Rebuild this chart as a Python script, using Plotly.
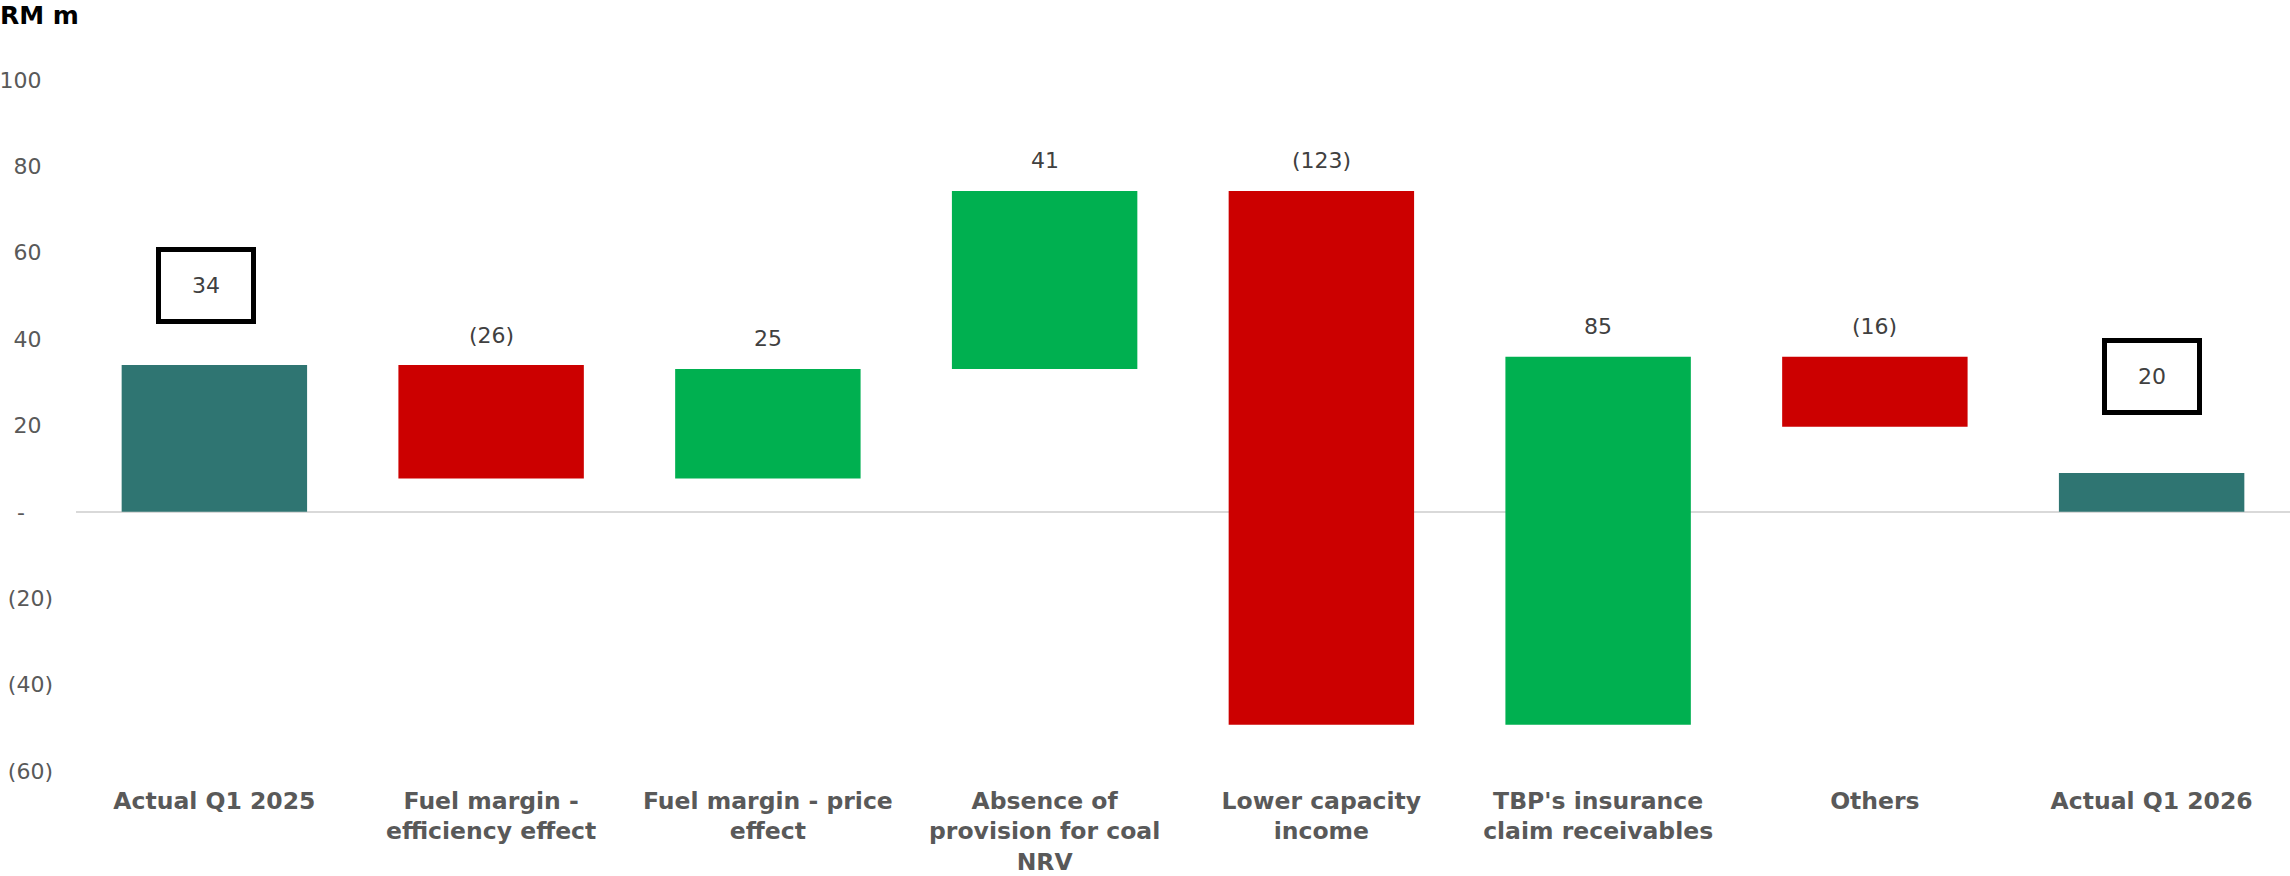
"""Q1 2026 vs Q1 2025 bridge (RM m) drawn as floating bars."""

import plotly.graph_objects as go

# Bridge steps, left to right
categories = [
    "Actual Q1 2025",
    "Fuel margin - efficiency effect",
    "Fuel margin - price effect",
    "Absence of provision for coal NRV",
    "Lower capacity income",
    "TBP's insurance claim receivables",
    "Others",
    "Actual Q1 2026",
]
tick_labels = [
    "Actual Q1 2025",
    "Fuel margin -<br>efficiency effect",
    "Fuel margin - price<br>effect",
    "Absence of<br>provision for coal<br>NRV",
    "Lower capacity<br>income",
    "TBP's insurance<br>claim receivables",
    "Others",
    "Actual Q1 2026",
]

# Floating bar extents as drawn (RM m)
bar_bottom = [0, 7.7, 7.7, 33.1, -49.3, -49.3, 19.7, 0]
bar_top = [34, 34, 33.1, 74.3, 74.3, 35.9, 35.9, 9.0]

# Value labels shown on the chart
value_labels = ["34", "(26)", "25", "41", "(123)", "85", "(16)", "20"]
bar_kind = ["total", "down", "up", "up", "down", "up", "down", "total"]

# Y axis ticks
y_ticks = [-60, -40, -20, 0, 20, 40, 60, 80, 100]
y_tick_labels = ["(60)", "(40)", "(20)", "-", "20", "40", "60", "80", "100"]

KIND_COLORS = {"total": "#2F7572", "down": "#CC0000", "up": "#00B050"}
FONT = "DejaVu Sans, Verdana, sans-serif"
NBSP = "\u00a0"
THIN = "\u2009"


def pad_tick(label: str) -> str:
    """Accounting style: positive numbers leave room for the closing bracket."""
    if label == "-":
        return "-" + NBSP * 4
    if label.startswith("("):
        return label
    return label + NBSP + THIN


fig = go.Figure()

fig.add_trace(go.Bar(
    x=categories,
    base=bar_bottom,
    y=[t - b for t, b in zip(bar_top, bar_bottom)],
    width=0.67,
    marker=dict(color=[KIND_COLORS[k] for k in bar_kind], line=dict(width=0)),
    hoverinfo="skip",
    showlegend=False,
))

annotations = []
for cat, top, label, kind in zip(categories, bar_top, value_labels, bar_kind):
    if kind == "total":
        continue
    annotations.append(dict(
        x=cat, y=top, text=label, showarrow=False,
        yanchor="middle", yshift=30,
        font=dict(family=FONT, size=22, color="#404040"),
    ))

# Boxed totals at both ends
box_style = dict(
    showarrow=False, width=88, height=65, borderpad=1, borderwidth=5,
    bordercolor="#000000", bgcolor="#FFFFFF", align="center", valign="middle",
    font=dict(family=FONT, size=22, color="#404040"),
)
annotations.append(dict(x=categories[0], y=52.4, text=value_labels[0], xshift=-8, **box_style))
annotations.append(dict(x=categories[-1], y=31.4, text=value_labels[-1], **box_style))

fig.update_layout(
    width=2290,
    height=876,
    margin=dict(l=76, r=0, t=80, b=105),
    paper_bgcolor="#FFFFFF",
    plot_bgcolor="#FFFFFF",
    hovermode=False,
    title=dict(
        text="<b>RM m</b>",
        xref="container", yref="container",
        x=0, xanchor="left", y=0.993, yanchor="top",
        pad=dict(t=0, l=0),
        font=dict(family=FONT, size=25, color="#000000"),
    ),
    xaxis=dict(
        tickvals=categories,
        ticktext=tick_labels,
        tickfont=dict(family=FONT, size=23.5, color="#595959", weight="bold"),
        showgrid=False,
        showline=False,
        ticks="",
        ticklabelstandoff=13,
        automargin=False,
    ),
    yaxis=dict(
        range=[-60, 100],
        tickvals=y_ticks,
        ticktext=[pad_tick(t) for t in y_tick_labels],
        tickfont=dict(family=FONT, size=22, color="#595959"),
        showgrid=False,
        zeroline=True,
        zerolinecolor="#D9D9D9",
        zerolinewidth=2,
        ticks="",
        ticklabelstandoff=22,
        automargin=False,
    ),
    annotations=annotations,
)

fig.write_html(
    "out.html",
    config={"displayModeBar": False},
    post_script="document.body.style.margin='0';document.body.style.overflow='hidden';",
)
